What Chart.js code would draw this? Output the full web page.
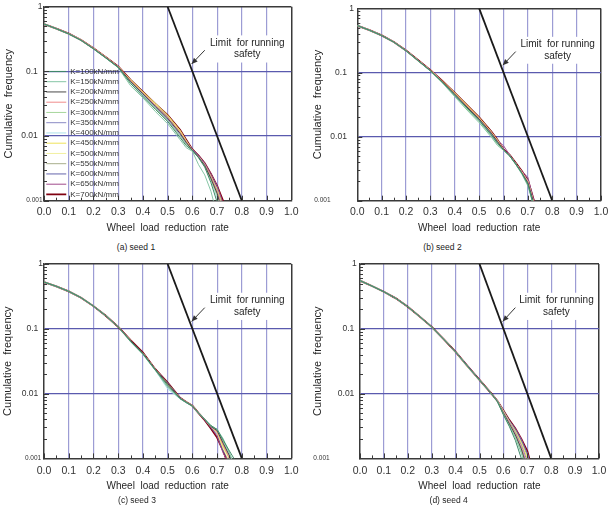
<!DOCTYPE html>
<html><head><meta charset="utf-8">
<script src="https://cdn.jsdelivr.net/npm/chart.js@4.4.1/dist/chart.umd.min.js"></script>
<style>
html,body{margin:0;padding:0;background:#fff;}
#wrap{position:relative;width:613px;height:509px;overflow:hidden;background:#fff;}
canvas{position:absolute;}
.cap{position:absolute;width:120px;text-align:center;font-family:'Liberation Sans',Arial,sans-serif;font-size:8.5px;color:#222;line-height:12px;}
</style></head>
<body><div id="wrap">
<canvas id="c1" width="306" height="240" style="left:0px;top:0px"></canvas>
<canvas id="c2" width="306" height="240" style="left:307px;top:0px"></canvas>
<canvas id="c3" width="306" height="255" style="left:0px;top:254px"></canvas>
<canvas id="c4" width="306" height="255" style="left:307px;top:254px"></canvas>
<div class="cap" id="cap1" style="left:76px;top:241px"></div>
<div class="cap" id="cap2" style="left:382.5px;top:241.3px"></div>
<div class="cap" id="cap3" style="left:77px;top:494px"></div>
<div class="cap" id="cap4" style="left:388.7px;top:494px"></div>
</div>
<script>
// ---------------- DATA ----------------
const xGrid = [0,0.05,0.1,0.15,0.2,0.25,0.3,0.35,0.4,0.45,0.5,0.55,0.575,0.6,0.625,0.65,0.675,0.7,0.725,0.75,0.775,0.8];
const kLabels = ['K=100kN/mm','K=150kN/mm','K=200kN/mm','K=250kN/mm','K=300kN/mm','K=350kN/mm','K=400kN/mm','K=450kN/mm','K=500kN/mm','K=550kN/mm','K=600kN/mm','K=650kN/mm','K=700kN/mm'];
const xTickLabels = ['0.0','0.1','0.2','0.3','0.4','0.5','0.6','0.7','0.8','0.9','1.0'];
const yTickValues = [0.001,0.01,0.1,1];
const yTickLabels = ['0.001','0.01','0.1','1'];
const captions = ['(a) seed 1','(b) seed 2','(c) seed 3','(d) seed 4'];
const limitX = [0.5, 0.8];
const limitY = [1, 0.001];
const limitText = ['Limit  for running', 'safety'];

// seed 1
const s1_k100 = [0.54,0.456,0.379,0.301,0.223,0.161,0.115,0.065,0.041,0.026,0.0168,0.0095,0.0071,0.0060,0.0046,0.0033,0.0019,0.00095,0.0004];
const s1_k150 = [0.54,0.455,0.378,0.300,0.222,0.160,0.114,0.060,0.039,0.024,0.0155,0.0088,0.0066,0.0058,0.0036,0.0025,0.0014,0.0006];
const s1_k200 = [0.54,0.457,0.381,0.303,0.225,0.163,0.117,0.070,0.045,0.029,0.0188,0.0110,0.0080,0.0060,0.0047,0.0035,0.0022,0.0013,0.0006];
const s1_k250 = [0.54,0.457,0.382,0.305,0.227,0.165,0.118,0.072,0.046,0.030,0.0195,0.0115,0.0082,0.0060,0.0048,0.0036,0.0023,0.0014,0.0007];
const s1_k300 = [0.54,0.456,0.380,0.302,0.224,0.162,0.116,0.066,0.042,0.027,0.0172,0.0100,0.0074,0.0060,0.0047,0.0034,0.0021,0.0012,0.0005];
const s1_k350 = [0.54,0.457,0.381,0.304,0.226,0.164,0.117,0.069,0.044,0.028,0.0180,0.0105,0.0077,0.0060,0.0048,0.0036,0.0023,0.0014,0.0007];
const s1_k400 = [0.54,0.456,0.380,0.303,0.225,0.163,0.116,0.068,0.043,0.0275,0.0175,0.0102,0.0075,0.0060,0.0047,0.0034,0.0021,0.0011,0.0005];
const s1_k450 = [0.54,0.458,0.383,0.306,0.228,0.166,0.118,0.074,0.048,0.032,0.0210,0.0122,0.0085,0.0060,0.0048,0.0036,0.0024,0.0015,0.0008];
const s1_k500 = [0.54,0.458,0.382,0.305,0.227,0.165,0.118,0.073,0.047,0.031,0.0205,0.0120,0.0084,0.0060,0.0048,0.0036,0.0023,0.0014,0.0007];
const s1_k550 = [0.54,0.457,0.381,0.304,0.226,0.164,0.117,0.071,0.046,0.030,0.0195,0.0113,0.0081,0.0060,0.0048,0.0035,0.0022,0.0013,0.0006];
const s1_k600 = [0.54,0.457,0.382,0.305,0.227,0.165,0.118,0.072,0.046,0.030,0.0200,0.0118,0.0083,0.0061,0.0049,0.0037,0.0024,0.0016,0.0008];
const s1_k650 = [0.54,0.458,0.382,0.305,0.227,0.165,0.118,0.073,0.047,0.031,0.0205,0.0122,0.0086,0.0062,0.0050,0.0038,0.0026,0.0017,0.0009];
const s1_k700 = [0.54,0.458,0.383,0.306,0.228,0.166,0.119,0.074,0.048,0.0315,0.0210,0.0125,0.0088,0.0062,0.0050,0.0038,0.0026,0.0017,0.00098,0.0004];

// seed 2
const s2_k100 = [0.54,0.456,0.377,0.297,0.218,0.152,0.106,0.070,0.044,0.028,0.0178,0.0106,0.0079,0.0062,0.0050,0.0037,0.0027,0.0018,0.0008];
const s2_k150 = [0.54,0.456,0.377,0.296,0.217,0.151,0.105,0.068,0.042,0.026,0.0165,0.0098,0.0073,0.0061,0.0050,0.0037,0.0026,0.0017,0.0008];
const s2_k200 = [0.54,0.457,0.378,0.298,0.219,0.153,0.107,0.071,0.046,0.029,0.0188,0.0113,0.0084,0.0062,0.0051,0.0038,0.0027,0.0019,0.0009];
const s2_k250 = [0.54,0.457,0.378,0.298,0.219,0.153,0.108,0.072,0.047,0.030,0.0192,0.0116,0.0086,0.0062,0.0051,0.0038,0.0028,0.0020,0.0009];
const s2_k300 = [0.54,0.456,0.377,0.297,0.218,0.152,0.106,0.069,0.043,0.027,0.0172,0.0102,0.0076,0.0062,0.0050,0.0037,0.0027,0.0018,0.0008];
const s2_k350 = [0.54,0.457,0.378,0.298,0.219,0.153,0.107,0.070,0.045,0.028,0.0182,0.0108,0.0080,0.0062,0.0051,0.0038,0.0027,0.0019,0.0008];
const s2_k400 = [0.54,0.457,0.378,0.298,0.219,0.153,0.107,0.071,0.045,0.029,0.0185,0.0110,0.0082,0.0062,0.0050,0.0038,0.0027,0.0019,0.0008];
const s2_k450 = [0.54,0.458,0.379,0.299,0.220,0.154,0.108,0.073,0.048,0.031,0.0198,0.0118,0.0088,0.0062,0.0051,0.0038,0.0028,0.0020,0.0009];
const s2_k500 = [0.54,0.458,0.379,0.299,0.220,0.154,0.108,0.072,0.047,0.030,0.0195,0.0117,0.0087,0.0062,0.0051,0.0038,0.0028,0.0020,0.0009];
const s2_k550 = [0.54,0.457,0.378,0.298,0.219,0.153,0.107,0.071,0.046,0.029,0.0190,0.0114,0.0085,0.0062,0.0051,0.0038,0.0027,0.0019,0.0009];
const s2_k600 = [0.54,0.457,0.378,0.298,0.219,0.153,0.107,0.072,0.047,0.030,0.0193,0.0116,0.0086,0.0063,0.0051,0.0038,0.0028,0.0021,0.0009];
const s2_k650 = [0.54,0.458,0.379,0.299,0.220,0.154,0.108,0.072,0.047,0.030,0.0196,0.0118,0.0088,0.0072,0.0052,0.0038,0.0029,0.0023,0.0010,0.0005];
const s2_k700 = [0.54,0.458,0.379,0.299,0.221,0.155,0.109,0.073,0.048,0.031,0.0200,0.0120,0.0089,0.0063,0.0052,0.0039,0.0029,0.0021,0.0010,0.0004];

// seed 3
const s3_k100 = [0.527,0.452,0.378,0.302,0.224,0.159,0.107,0.064,0.041,0.0232,0.0135,0.0084,0.0073,0.0064,0.0050,0.0040,0.0032,0.0028,0.0019,0.0013,0.0009];
const s3_k150 = [0.527,0.452,0.378,0.302,0.224,0.159,0.107,0.063,0.040,0.0228,0.0125,0.0083,0.0073,0.0064,0.0050,0.0040,0.0032,0.0028,0.0020,0.0012,0.0007];
const s3_k200 = [0.527,0.452,0.378,0.302,0.224,0.159,0.107,0.066,0.042,0.0236,0.0143,0.0085,0.0074,0.0065,0.0050,0.0040,0.0031,0.0027,0.0017,0.0011,0.0006];
const s3_k250 = [0.527,0.452,0.378,0.302,0.224,0.159,0.107,0.066,0.042,0.0236,0.0140,0.0085,0.0074,0.0065,0.0050,0.0040,0.0031,0.0026,0.0016,0.0010,0.0005];
const s3_k300 = [0.527,0.452,0.378,0.302,0.224,0.159,0.107,0.065,0.041,0.0233,0.0130,0.0084,0.0073,0.0064,0.0050,0.0040,0.0032,0.0027,0.0018,0.0012,0.0007];
const s3_k350 = [0.527,0.452,0.378,0.302,0.224,0.159,0.107,0.065,0.041,0.0233,0.0128,0.0084,0.0073,0.0064,0.0050,0.0040,0.0031,0.0026,0.0017,0.0011,0.0006];
const s3_k400 = [0.527,0.452,0.378,0.302,0.224,0.159,0.107,0.064,0.041,0.0230,0.0118,0.0083,0.0072,0.0064,0.0050,0.0040,0.0032,0.0028,0.0019,0.0012,0.0007];
const s3_k450 = [0.527,0.452,0.378,0.302,0.224,0.159,0.107,0.066,0.042,0.0236,0.0142,0.0085,0.0074,0.0065,0.0050,0.0040,0.0031,0.0025,0.0015,0.0010,0.0005];
const s3_k500 = [0.527,0.452,0.378,0.302,0.224,0.159,0.107,0.066,0.042,0.0236,0.0141,0.0085,0.0074,0.0065,0.0050,0.0040,0.0031,0.0025,0.0014,0.0009];
const s3_k550 = [0.527,0.452,0.378,0.302,0.224,0.159,0.107,0.066,0.042,0.0236,0.0140,0.0085,0.0074,0.0065,0.0050,0.0040,0.0031,0.0026,0.0016,0.0010,0.0006];
const s3_k600 = [0.527,0.452,0.378,0.302,0.224,0.159,0.107,0.066,0.042,0.0237,0.0145,0.0086,0.0074,0.0065,0.0050,0.0040,0.0030,0.0024,0.0013,0.0009];
const s3_k650 = [0.527,0.452,0.378,0.302,0.224,0.159,0.107,0.066,0.042,0.0237,0.0146,0.0086,0.0074,0.0065,0.0050,0.0039,0.0030,0.0022,0.0012,0.0008];
const s3_k700 = [0.527,0.452,0.378,0.302,0.224,0.159,0.107,0.067,0.043,0.0238,0.0148,0.0086,0.0074,0.0065,0.0050,0.0039,0.0029,0.0021,0.0013,0.0007];

// seed 4
const s4_k100 = [0.553,0.457,0.373,0.295,0.219,0.154,0.107,0.069,0.044,0.0265,0.0162,0.0099,0.0075,0.0047,0.0031,0.0019,0.0010,0.0005];
const s4_k150 = [0.553,0.457,0.373,0.295,0.219,0.154,0.107,0.069,0.044,0.0261,0.0161,0.0099,0.0075,0.0048,0.0032,0.0021,0.0012,0.0006];
const s4_k200 = [0.553,0.457,0.373,0.295,0.219,0.154,0.107,0.069,0.044,0.0262,0.0162,0.0100,0.0076,0.0050,0.0034,0.0023,0.0014,0.0007];
const s4_k250 = [0.553,0.457,0.373,0.295,0.219,0.154,0.107,0.069,0.044,0.0262,0.0162,0.0100,0.0076,0.0051,0.0035,0.0024,0.0015,0.0008];
const s4_k300 = [0.553,0.457,0.373,0.295,0.219,0.154,0.107,0.069,0.044,0.0263,0.0161,0.0100,0.0076,0.0049,0.0033,0.0022,0.0013,0.0007];
const s4_k350 = [0.553,0.457,0.373,0.295,0.219,0.154,0.107,0.069,0.044,0.0262,0.0162,0.0100,0.0077,0.0052,0.0036,0.0025,0.0016,0.0009];
const s4_k400 = [0.553,0.457,0.373,0.295,0.219,0.154,0.107,0.069,0.044,0.0262,0.0162,0.0100,0.0076,0.0050,0.0034,0.0023,0.0014,0.0008];
const s4_k450 = [0.553,0.457,0.373,0.295,0.219,0.154,0.107,0.069,0.044,0.0260,0.0162,0.0100,0.0077,0.0053,0.0036,0.0026,0.0017,0.0010,0.0005];
const s4_k500 = [0.553,0.457,0.373,0.295,0.219,0.154,0.107,0.069,0.044,0.0260,0.0162,0.0100,0.0077,0.0053,0.0037,0.0026,0.0017,0.0010,0.0005];
const s4_k550 = [0.553,0.457,0.373,0.295,0.219,0.154,0.107,0.069,0.044,0.0262,0.0162,0.0100,0.0077,0.0054,0.0037,0.0027,0.0018,0.0011,0.0005];
const s4_k600 = [0.553,0.457,0.373,0.295,0.219,0.154,0.107,0.069,0.044,0.0268,0.0162,0.0100,0.0077,0.0054,0.0038,0.0028,0.0019,0.0012,0.0006];
const s4_k650 = [0.553,0.457,0.373,0.295,0.219,0.154,0.107,0.069,0.044,0.0270,0.0163,0.0100,0.0077,0.0055,0.0038,0.0029,0.0020,0.0012,0.0006];
const s4_k700 = [0.553,0.457,0.373,0.295,0.219,0.154,0.107,0.069,0.044,0.0266,0.0163,0.0100,0.0077,0.0055,0.0039,0.0029,0.0020,0.0013,0.0006];

const seed1 = [s1_k100,s1_k150,s1_k200,s1_k250,s1_k300,s1_k350,s1_k400,s1_k450,s1_k500,s1_k550,s1_k600,s1_k650,s1_k700];
const seed2 = [s2_k100,s2_k150,s2_k200,s2_k250,s2_k300,s2_k350,s2_k400,s2_k450,s2_k500,s2_k550,s2_k600,s2_k650,s2_k700];
const seed3 = [s3_k100,s3_k150,s3_k200,s3_k250,s3_k300,s3_k350,s3_k400,s3_k450,s3_k500,s3_k550,s3_k600,s3_k650,s3_k700];
const seed4 = [s4_k100,s4_k150,s4_k200,s4_k250,s4_k300,s4_k350,s4_k400,s4_k450,s4_k500,s4_k550,s4_k600,s4_k650,s4_k700];

// ---------------- STYLE ----------------
const kColors = ['#3f8a68','#86c6a6','#4a4a4a','#f08c8c','#a6d69c','#8a8ac4','#aee0ea','#eee25a','#f2f0a0','#a8ae8c','#6464ac','#a04a8c','#800010'];
const FONT = "'Liberation Sans', Arial, sans-serif";
const FRAME = '#3a3a3a';
const VGRID = '#9c9cd4';
const HGRID = '#5a5aae';
const TXT = '#262626';
// annotation placement (data units)
const ann = {textX: 0.822, line1Y: 0.275, line2Y: 0.181, boxX0: 0.665, boxX1: 0.985, boxY0: 0.36, boxY1: 0.137,
             arrowFrom: [0.65, 0.212], arrowTo: [0.597, 0.13]};

const panels = [
  {id:'c1', left:0,   top:0,   w:306, h:240, L:44,    T:6.7, R:291.3, B:200.7, tickPad:4.7, yTitlePad:2,   yPad:1.5, sp:{'1':0,'0.1':2,'0.01':2,'0.001':0},  data:seed1, legend:true},
  {id:'c2', left:307, top:0,   w:306, h:240, L:357.3, T:6.7, R:602.5, B:200.7, tickPad:4.7, yTitlePad:4.7, yPad:3.3, sp:{'1':0,'0.1':3,'0.01':3,'0.001':13}, data:seed2, legend:false},
  {id:'c3', left:0,   top:254, w:306, h:255, L:44,    T:264, R:291.3, B:458.4, tickPad:6.7, yTitlePad:1.7, yPad:1,   sp:{'1':0,'0.1':2,'0.01':2,'0.001':1},  data:seed3, legend:false},
  {id:'c4', left:307, top:254, w:306, h:255, L:360,   T:264, R:605.7, B:458.4, tickPad:6.7, yTitlePad:4.7, yPad:3.3, sp:{'1':0,'0.1':1,'0.01':1,'0.001':15}, data:seed4, legend:false}
];
const XAXIS_H = 33.7;

function isDecade(v){ const l = Math.log10(v); return Math.abs(l - Math.round(l)) < 1e-6; }
function mantissaInt(v){ const m = v / Math.pow(10, Math.floor(Math.log10(v) + 1e-9)); return Math.abs(m - Math.round(m)) < 1e-6; }

// keep an in-plot legend aligned to the plot area vertically
const legendInArea = {
  id: 'legendInArea',
  afterLayout(chart) {
    const lg = chart.legend;
    if (lg && lg.options.display && lg.options.position === 'chartArea') {
      lg.top = chart.chartArea.top;
      lg.bottom = chart.chartArea.bottom;
    }
  }
};

const innerTicks = {
  id: 'innerTicks',
  afterDatasetsDraw(chart) {
    const {ctx, chartArea: a, scales: {x, y}} = chart;
    ctx.save();
    ctx.strokeStyle = FRAME; ctx.lineWidth = 1;
    ctx.beginPath();
    y.ticks.forEach(t => {
      if (!mantissaInt(t.value)) return;
      const py = Math.round(y.getPixelForValue(t.value)) + 0.5;
      const len = isDecade(t.value) ? 5 : 3;
      ctx.moveTo(a.left, py); ctx.lineTo(a.left + len, py);
    });
    x.ticks.forEach(t => {
      const k = Math.round(t.value * 20);
      const px = Math.round(x.getPixelForValue(t.value)) + 0.5;
      ctx.moveTo(px, a.bottom); ctx.lineTo(px, a.bottom - (k % 2 === 0 ? 5 : 3));
    });
    ctx.stroke();
    ctx.restore();
  }
};

const limitLabel = {
  id: 'limitLabel',
  afterDatasetsDraw(chart) {
    const {ctx, scales: {x, y}} = chart;
    ctx.save();
    const bx0 = x.getPixelForValue(ann.boxX0), bx1 = x.getPixelForValue(ann.boxX1);
    const by0 = y.getPixelForValue(ann.boxY0), by1 = y.getPixelForValue(ann.boxY1);
    ctx.fillStyle = '#ffffff';
    ctx.fillRect(bx0, by0, bx1 - bx0, by1 - by0);
    ctx.fillStyle = TXT;
    ctx.font = '10px ' + FONT;
    ctx.textAlign = 'center'; ctx.textBaseline = 'middle';
    ctx.fillText(limitText[0], x.getPixelForValue(ann.textX), y.getPixelForValue(ann.line1Y));
    ctx.fillText(limitText[1], x.getPixelForValue(ann.textX), y.getPixelForValue(ann.line2Y));
    const x0 = x.getPixelForValue(ann.arrowFrom[0]), y0 = y.getPixelForValue(ann.arrowFrom[1]);
    const x1 = x.getPixelForValue(ann.arrowTo[0]), y1 = y.getPixelForValue(ann.arrowTo[1]);
    ctx.strokeStyle = '#333'; ctx.lineWidth = 1;
    ctx.beginPath(); ctx.moveTo(x0, y0); ctx.lineTo(x1, y1); ctx.stroke();
    const ang = Math.atan2(y1 - y0, x1 - x0), hl = 6, hw = 2.6;
    ctx.fillStyle = '#333';
    ctx.beginPath();
    ctx.moveTo(x1, y1);
    ctx.lineTo(x1 - hl*Math.cos(ang) + hw*Math.sin(ang), y1 - hl*Math.sin(ang) - hw*Math.cos(ang));
    ctx.lineTo(x1 - hl*Math.cos(ang) - hw*Math.sin(ang), y1 - hl*Math.sin(ang) + hw*Math.cos(ang));
    ctx.closePath(); ctx.fill();
    ctx.restore();
  }
};

Chart.defaults.font.family = FONT;

panels.forEach((p, pi) => {
  document.getElementById('cap' + (pi + 1)).textContent = captions[pi];
  const datasets = p.data.map((arr, i) => ({
    label: kLabels[i],
    data: arr.map((v, j) => ({x: xGrid[j], y: v})),
    borderColor: kColors[i],
    backgroundColor: kColors[i],
    borderWidth: i === 12 ? 1.8 : 1,
    pointRadius: 0, fill: false, tension: 0
  }));
  datasets.push({
    label: 'limit',
    data: limitX.map((v, j) => ({x: v, y: limitY[j]})),
    borderColor: '#1a1a1a', borderWidth: 1.8, pointRadius: 0, fill: false
  });
  new Chart(document.getElementById(p.id), {
    type: 'line',
    data: {datasets},
    options: {
      responsive: false, animation: false, devicePixelRatio: 1,
      layout: {padding: {left: 0, top: p.T - p.top, right: p.left + p.w - p.R, bottom: (p.top + p.h) - p.B - XAXIS_H}},
      plugins: {
        tooltip: {enabled: false},
        title: {display: false},
        legend: {
          display: p.legend, position: 'chartArea', align: 'end',
          labels: {
            filter: item => item.datasetIndex < 13,
            usePointStyle: true, pointStyle: 'line', pointStyleWidth: 20,
            padding: 2.25, color: '#333', font: {size: 8, family: FONT}
          }
        }
      },
      scales: {
        x: {
          type: 'linear', min: 0, max: 1,
          ticks: {
            stepSize: 0.05, autoSkip: false, maxRotation: 0, padding: p.tickPad,
            color: '#333', font: {size: 10.5},
            callback: v => { const k = Math.round(v * 20); return k % 2 === 0 ? xTickLabels[k / 2] : ''; }
          },
          grid: {
            drawTicks: false,
            color: c => { if (!c.tick) return 'transparent'; const k = Math.round(c.tick.value * 20); if (k % 2 || k === 0) return 'transparent'; return k === 20 ? FRAME : VGRID; },
            lineWidth: c => { if (!c.tick) return 1; const k = Math.round(c.tick.value * 20); return k === 20 ? 1.5 : 1.2; }
          },
          border: {color: FRAME, width: 1.5},
          title: {display: true, text: 'Wheel  load  reduction  rate', color: TXT, font: {size: 10}, padding: {top: 0, bottom: 0}},
          afterFit: s => { s.height = XAXIS_H; }
        },
        y: {
          type: 'logarithmic', min: 0.001, max: 1,
          afterBuildTicks: s => { s.ticks = s.ticks.filter(t => mantissaInt(t.value)); },
          ticks: {
            autoSkip: false, padding: p.yPad, color: '#333',
            font: c => ({size: (c.tick && c.tick.value < 0.002) ? 6.5 : 8.5}),
            callback: v => {
              const idx = yTickValues.findIndex(t => Math.abs(t - v) / t < 1e-6);
              if (idx < 0) return '';
              const lab = yTickLabels[idx];
              return lab + ' '.repeat(p.sp[lab] || 0);
            }
          },
          grid: {
            drawTicks: false,
            color: c => { if (!c.tick || !isDecade(c.tick.value)) return 'transparent'; if (c.tick.value < 0.002) return 'transparent'; return c.tick.value > 0.5 ? FRAME : HGRID; },
            lineWidth: c => (c.tick && c.tick.value > 0.5) ? 1.5 : 1.2
          },
          border: {color: FRAME, width: 1.5},
          title: {display: true, text: 'Cumulative  frequency', color: TXT, font: {size: 11}, padding: {top: p.yTitlePad, bottom: 0}},
          afterFit: s => { s.width = p.L - p.left; }
        }
      }
    },
    plugins: [legendInArea, innerTicks, limitLabel]
  });
});
</script>
</body></html>
